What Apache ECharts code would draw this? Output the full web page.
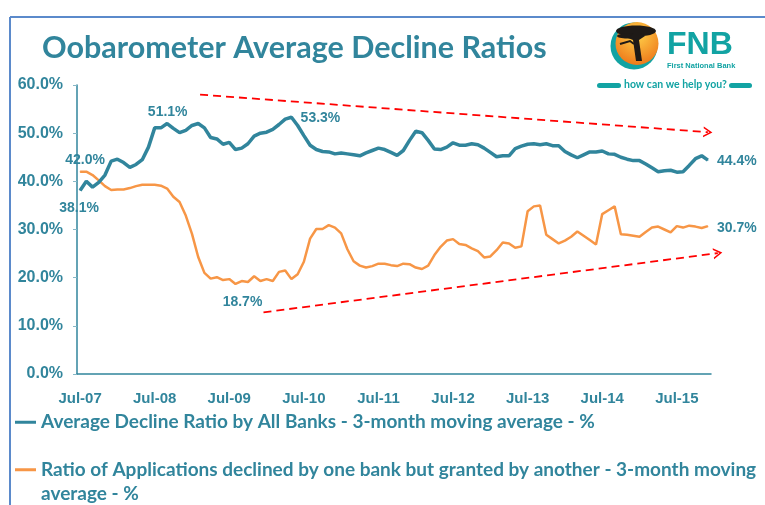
<!DOCTYPE html>
<html>
<head>
<meta charset="utf-8">
<script src="https://cdn.jsdelivr.net/npm/echarts@6/dist/echarts.min.js"></script>
<style>
  html, body { margin: 0; padding: 0; background: #fff; }
  #chart { width: 765px; height: 505px; }
</style>
</head>
<body>
<div id="chart"></div>
<script>
// monthly categories Jul-07 .. Dec-15
var monthNames = ['Jan', 'Feb', 'Mar', 'Apr', 'May', 'Jun', 'Jul', 'Aug', 'Sep', 'Oct', 'Nov', 'Dec'];
var categories = [];
for (var k = 0; k < 102; k++) {
  var m = (6 + k) % 12;
  var y = 7 + Math.floor((6 + k) / 12);
  categories.push(monthNames[m] + '-' + (y < 10 ? '0' + y : y));
}

var seriesNames = [
  'Average Decline Ratio by All Banks - 3-month moving average - %',
  'Ratio of Applications declined by one bank but granted by another - 3-month moving average - %'
];

// Average decline ratio, all banks (%)
var declineAll = [
  38.1, 40.0, 38.8, 39.8, 41.3, 44.2, 44.6, 43.9, 42.9, 43.5, 44.5, 47.1,
  51.1, 51.1, 52.0, 51.0, 50.1, 50.6, 51.6, 52.0, 51.1, 49.1, 48.8, 47.7,
  48.1, 46.6, 46.9, 47.8, 49.4, 50.0, 50.2, 50.8, 51.8, 52.9, 53.3, 51.6,
  49.5, 47.5, 46.6, 46.2, 46.1, 45.7, 45.9, 45.7, 45.5, 45.3, 45.9, 46.4,
  46.9, 46.6, 46.0, 45.4, 46.4, 48.5, 50.4, 50.1, 48.5, 46.7, 46.6, 47.1,
  48.0, 47.5, 47.5, 47.8, 47.6, 46.9, 46.0, 45.1, 45.3, 45.3, 46.8, 47.3,
  47.7, 47.8, 47.6, 47.8, 47.4, 47.4, 46.2, 45.5, 44.9, 45.5, 46.1, 46.1,
  46.3, 45.7, 45.6, 45.0, 44.6, 44.3, 44.3, 43.6, 42.8, 42.0, 42.2, 42.3,
  41.9, 42.0, 43.3, 44.7, 45.3, 44.4
];

// Declined by one bank but granted by another (%)
var declinedGranted = [
  42.0, 42.0, 41.3, 40.2, 39.0, 38.2, 38.3, 38.3, 38.6, 39.0, 39.3, 39.3,
  39.3, 39.1, 38.5, 36.8, 35.7, 32.9, 29.1, 24.3, 21.0, 19.8, 20.1, 19.5,
  19.7, 18.7, 19.3, 19.1, 20.3, 19.3, 19.7, 19.3, 21.2, 21.5, 19.7, 20.7,
  23.3, 28.1, 30.1, 30.1, 30.9, 30.4, 29.2, 25.9, 23.4, 22.5, 22.1, 22.4,
  22.9, 22.9, 22.6, 22.4, 22.9, 22.8, 22.1, 21.8, 22.5, 24.7, 26.4, 27.7,
  28.0, 27.0, 26.8, 26.1, 25.5, 24.2, 24.4, 25.7, 27.3, 27.1, 26.2, 26.5,
  33.8, 34.8, 35.0, 28.9, 28.0, 27.1, 27.7, 28.5, 29.6, 28.7, 27.8, 26.9,
  33.2, 34.0, 34.8, 29.0, 28.9, 28.7, 28.5, 29.5, 30.4, 30.6, 30.0, 29.4,
  30.7, 30.4, 30.8, 30.6, 30.3, 30.7
];

// dashed trend arrows, [month index, %]
var trendDown = [[19.3, 58.0], [101.0, 50.2]];
var trendUp = [[29.5, 12.8], [102.6, 25.1]];

var teal = '#31859C';
var orange = '#F79646';
var logoTeal = '#12A3A3';
var humanist = 'Lato, "Liberation Sans", sans-serif';
var plain = '"Liberation Sans", Arial, sans-serif';

// which points carry a value label, and where it sits relative to the point
var blueNotes = { 0: [-1, 18], 12: [13, -16], 34: [29, 1], 101: [29, 1] };
var orangeNotes = { 0: [5, -12], 25: [7, 18], 101: [29, 2] };

function withNotes(values, notes) {
  return values.map(function (v, i) {
    if (!notes[i]) return v;
    return { value: v, symbol: 'circle', symbolSize: 1, label: { show: true, offset: notes[i] } };
  });
}

var noteLabel = {
  show: false,
  position: 'inside',
  color: teal,
  fontFamily: plain,
  fontWeight: 'bold',
  fontSize: 14,
  formatter: function (p) { return p.value.toFixed(1) + '%'; }
};

var chevron = 'path://M0,10 L5,0 L10,10 L8.4,10 L5,3.2 L1.6,10 Z';

// the arrows sit on a second, wider grid so the lower one can run past the last month
var catWidth = (765 - 77 - 54) / categories.length;
var arrowRight = 24;
var arrowMax = -0.5 + (765 - 77 - arrowRight) / catWidth;

var legendText = { color: teal, fontFamily: humanist, fontWeight: 'bold', fontSize: 19, lineHeight: 24.5 };

var chart = echarts.init(document.getElementById('chart'));
chart.setOption({
  animation: false,
  title: {
    text: 'Oobarometer Average Decline Ratios',
    left: 37,
    top: 28,
    textStyle: { color: teal, fontFamily: humanist, fontWeight: 'bold', fontSize: 30.5 }
  },
  legend: [{
    data: [seriesNames[0]],
    left: 15,
    top: 410,
    padding: 0,
    icon: 'rect',
    itemWidth: 21,
    itemHeight: 3,
    selectedMode: false,
    textStyle: legendText
  }, {
    data: [seriesNames[1]],
    left: 15,
    top: 433,
    padding: 0,
    icon: 'rect',
    itemWidth: 21,
    itemHeight: 3,
    selectedMode: false,
    formatter: function (name) { return '\n' + name.replace(' moving ', ' moving\n'); },
    textStyle: legendText
  }],
  grid: [
    { left: 77, right: 54, top: 85, bottom: 131, containLabel: false },
    { left: 77, right: arrowRight, top: 85, bottom: 131, containLabel: false }
  ],
  xAxis: [{
    type: 'category',
    data: categories,
    boundaryGap: true,
    axisLine: { lineStyle: { color: teal, width: 1.5 } },
    axisTick: { interval: 11, length: 5, lineStyle: { color: '#86B7C6' } },
    axisLabel: {
      interval: 11,
      margin: 17,
      color: teal,
      fontFamily: plain,
      fontWeight: 'bold',
      fontSize: 15
    },
    splitLine: { show: false }
  }, {
    type: 'value',
    gridIndex: 1,
    min: -0.5,
    max: arrowMax,
    show: false
  }],
  yAxis: [{
    type: 'value',
    min: 0,
    max: 60,
    interval: 10,
    axisLine: { show: true, lineStyle: { color: teal, width: 1.5 } },
    axisTick: { show: true, length: 4, lineStyle: { color: '#86B7C6' } },
    axisLabel: {
      margin: 14,
      color: teal,
      fontFamily: plain,
      fontWeight: 'bold',
      fontSize: 16,
      formatter: function (v) { return v.toFixed(1) + '%'; }
    },
    splitLine: { show: false }
  }, {
    type: 'value',
    gridIndex: 1,
    min: 0,
    max: 60,
    show: false
  }],
  series: [{
    name: seriesNames[0],
    type: 'line',
    data: withNotes(declineAll, blueNotes),
    symbol: 'none',
    showAllSymbol: true,
    color: teal,
    lineStyle: { color: teal, width: 3.5 },
    label: noteLabel,
    silent: true,
    z: 3
  }, {
    name: seriesNames[1],
    type: 'line',
    data: withNotes(declinedGranted, orangeNotes),
    symbol: 'none',
    showAllSymbol: true,
    color: orange,
    lineStyle: { color: orange, width: 2.5 },
    label: noteLabel,
    silent: true,
    z: 2
  }, {
    name: 'trend',
    type: 'line',
    xAxisIndex: 1,
    yAxisIndex: 1,
    data: [],
    silent: true,
    markLine: {
      silent: true,
      symbol: ['none', chevron],
      symbolSize: [11, 9],
      label: { show: false },
      lineStyle: { color: '#FF0000', type: [8, 5], width: 1.8 },
      data: [
        [{ coord: trendDown[0] }, { coord: trendDown[1] }],
        [{ coord: trendUp[0] }, { coord: trendUp[1] }]
      ]
    }
  }],
  graphic: [
    // slide frame
    { type: 'line', shape: { x1: 10, y1: 17, x2: 765, y2: 17 }, style: { stroke: '#5B8ACB', lineWidth: 2 }, silent: true },
    { type: 'line', shape: { x1: 10, y1: 17, x2: 10, y2: 505 }, style: { stroke: '#5B8ACB', lineWidth: 2 }, silent: true },
    // FNB logo
    { type: 'circle', shape: { cx: 634, cy: 46, r: 23.5 }, style: { fill: logoTeal }, silent: true },
    {
      type: 'circle', shape: { cx: 637, cy: 43.5, r: 21.5 }, silent: true,
      style: {
        fill: new echarts.graphic.RadialGradient(0.5, 0.3, 0.7, [
          { offset: 0, color: '#FFD24A' }, { offset: 1, color: '#EE7A1B' }
        ])
      }
    },
    { type: 'ellipse', shape: { cx: 636, cy: 31, rx: 20, ry: 5.5 }, style: { fill: '#1E1A17' }, silent: true },
    { type: 'ellipse', shape: { cx: 627, cy: 36, rx: 10, ry: 2.5 }, style: { fill: '#1E1A17' }, silent: true },
    { type: 'polygon', shape: { points: [[634, 33], [628, 38], [633, 40], [636, 61], [642, 61], [639, 40], [645, 36], [640, 33]] }, style: { fill: '#1E1A17' }, silent: true },
    { type: 'polyline', shape: { points: [[620, 44], [630, 41], [634, 44]] }, style: { stroke: '#1E1A17', lineWidth: 2, fill: null }, silent: true },
    { type: 'text', left: 667, top: 29, silent: true, style: { text: 'FNB', fill: logoTeal, font: 'bold 32px ' + plain } },
    { type: 'text', left: 667, top: 62, silent: true, style: { text: 'First National Bank', fill: logoTeal, font: 'bold 7.5px ' + plain } },
    { type: 'rect', shape: { x: 597, y: 83, width: 24, height: 5, r: 2.5 }, style: { fill: logoTeal }, silent: true },
    { type: 'rect', shape: { x: 729, y: 83, width: 23, height: 5, r: 2.5 }, style: { fill: logoTeal }, silent: true },
    { type: 'text', left: 624, top: 79, silent: true, style: { text: 'how can we help you?', fill: logoTeal, font: 'bold 10.5px ' + humanist } }
  ]
});
</script>
</body>
</html>
